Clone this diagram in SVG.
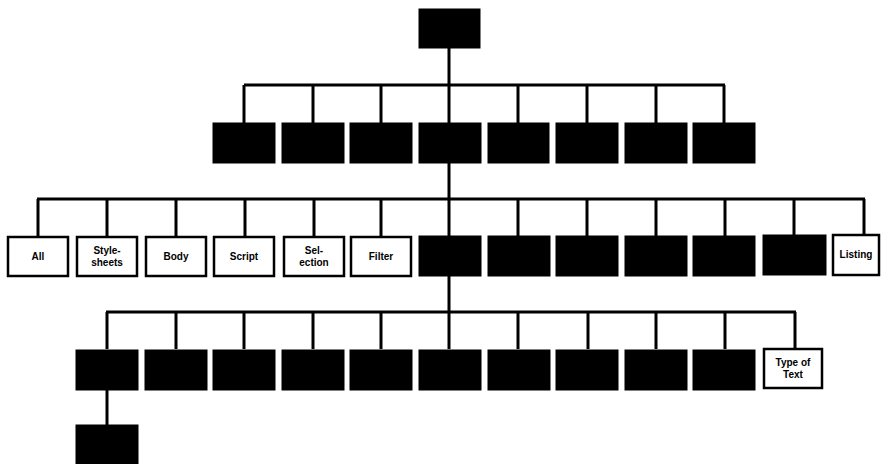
<svg xmlns="http://www.w3.org/2000/svg" width="884" height="464" viewBox="0 0 884 464">
<style>
.b{fill:#000;stroke:#000;stroke-width:1}
.w{fill:#fff;stroke:#000;stroke-width:2.5}
.c{fill:none;stroke:#000;stroke-width:3}
.t{font-family:"Liberation Sans",Arial,sans-serif;font-weight:bold;font-size:10px;fill:#000;text-anchor:middle}
</style>
<rect width="884" height="464" fill="#fff"/>
<g id="connectors">
<path class="c" d="M449 48V85M244 85H725M244 85V123M313 85V123M381 85V123M449 85V123M518 85V123M587 85V123M656 85V123M724 85V123"/>
<path class="c" d="M449 163V199M37 199H865M38 199V236M107 199V236M176 199V236M245 199V236M314 199V236M381 199V236M449 199V236M518 199V236M587 199V236M656 199V236M725 199V236M794 199V236M864 199V234"/>
<path class="c" d="M449 276V312M106 312H796M107 312V349M176 312V349M244 312V349M313 312V349M381 312V349M449 312V349M518 312V349M588 312V349M656 312V349M725 312V349M795 312V349"/>
<path class="c" d="M107 390V425"/>
</g>
<g id="root"><rect class="b" x="419" y="9" width="61" height="39"/></g>
<g id="r1">
<rect class="b" x="213" y="123" width="62" height="40"/>
<rect class="b" x="282" y="123" width="62" height="40"/>
<rect class="b" x="350" y="123" width="62" height="40"/>
<rect class="b" x="419" y="123" width="62" height="40"/>
<rect class="b" x="488" y="123" width="61" height="40"/>
<rect class="b" x="556" y="123" width="62" height="40"/>
<rect class="b" x="625" y="123" width="62" height="40"/>
<rect class="b" x="693" y="123" width="62" height="40"/>
</g>
<g id="n-all"><rect class="w" x="8" y="237" width="60" height="39"/><text class="t" x="38" y="260">All</text></g>
<g id="n-stylesheets"><rect class="w" x="77" y="237" width="60" height="39"/><text class="t" x="107" y="254">Style-</text><text class="t" x="107" y="266">sheets</text></g>
<g id="n-body"><rect class="w" x="146" y="237" width="60" height="39"/><text class="t" x="176" y="260">Body</text></g>
<g id="n-script"><rect class="w" x="214" y="237" width="60" height="39"/><text class="t" x="244" y="260">Script</text></g>
<g id="n-selection"><rect class="w" x="284" y="237" width="60" height="39"/><text class="t" x="314" y="254">Sel-</text><text class="t" x="314" y="266">ection</text></g>
<g id="n-filter"><rect class="w" x="351" y="237" width="60" height="39"/><text class="t" x="381" y="260">Filter</text></g>
<g id="r2">
<rect class="b" x="419" y="236" width="62" height="40"/>
<rect class="b" x="488" y="236" width="62" height="40"/>
<rect class="b" x="556" y="236" width="62" height="40"/>
<rect class="b" x="625" y="236" width="62" height="40"/>
<rect class="b" x="693" y="236" width="62" height="40"/>
<rect class="b" x="763" y="235" width="63" height="40"/>
</g>
<g id="n-listing"><rect class="w" x="833" y="235" width="46" height="40"/><text class="t" x="856" y="258">Listing</text></g>
<g id="r3">
<rect class="b" x="76" y="350" width="62" height="40"/>
<rect class="b" x="145" y="350" width="62" height="40"/>
<rect class="b" x="213" y="350" width="62" height="40"/>
<rect class="b" x="282" y="350" width="62" height="40"/>
<rect class="b" x="350" y="350" width="62" height="40"/>
<rect class="b" x="419" y="350" width="62" height="40"/>
<rect class="b" x="488" y="350" width="62" height="40"/>
<rect class="b" x="556" y="350" width="62" height="40"/>
<rect class="b" x="625" y="350" width="62" height="40"/>
<rect class="b" x="693" y="350" width="62" height="40"/>
</g>
<g id="n-last"><rect class="w" x="764" y="349" width="58" height="39"/><text class="t" x="793" y="366">Type of</text><text class="t" x="793" y="378">Text</text></g>
<g id="r4"><rect class="b" x="76" y="425" width="62" height="40"/></g>
</svg>
